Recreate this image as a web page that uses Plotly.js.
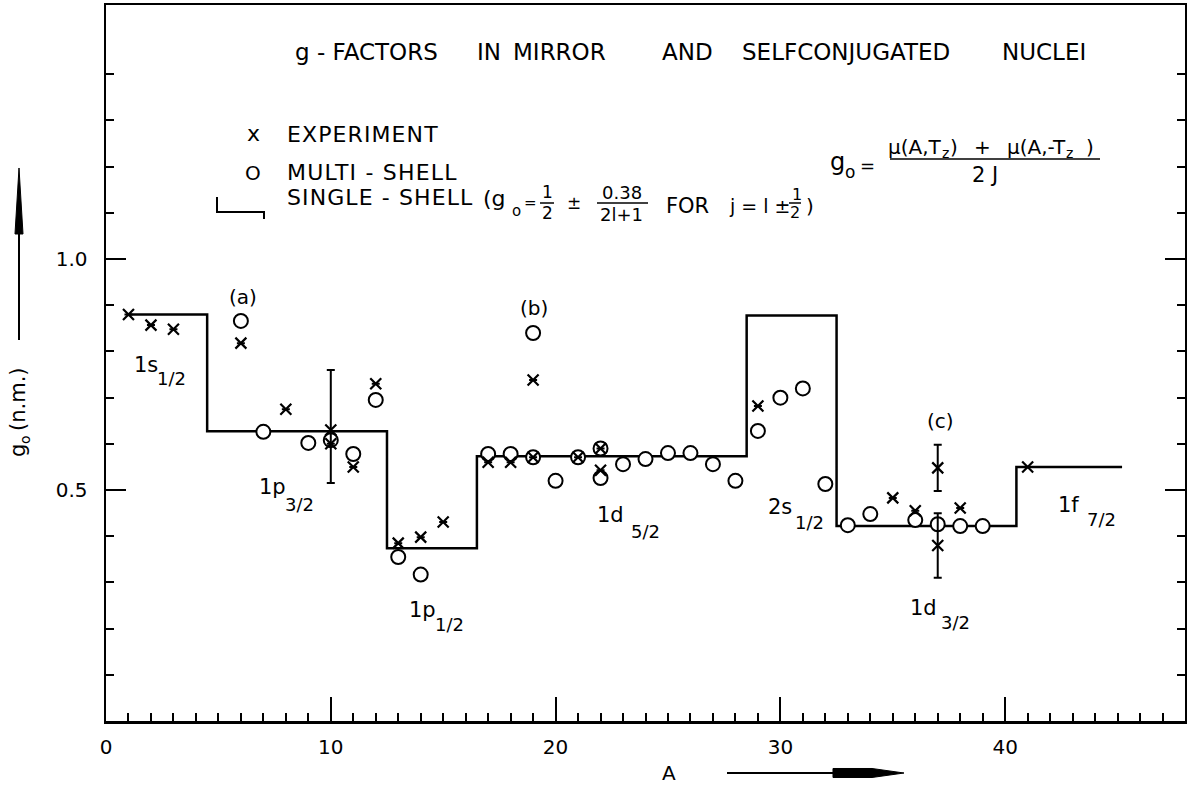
<!DOCTYPE html>
<html>
<head>
<meta charset="utf-8">
<script src="https://cdn.plot.ly/plotly-3.0.1.min.js"></script>
<style>html,body{margin:0;padding:0;background:#fff;}#chart{width:1187px;height:785px;}</style>
</head>
<body>
<div id="chart"></div>
<script>
// ---- data ----
const expA = [1, 2, 3, 6, 8, 10, 10, 11, 12, 13, 14, 15, 17, 18, 19, 19, 21, 22, 22, 29, 35, 36, 37, 37, 38, 41];
const expG = [0.88, 0.857, 0.848, 0.818, 0.675, 0.63, 0.60, 0.55, 0.73, 0.385, 0.398, 0.431, 0.56, 0.56, 0.571, 0.738, 0.571, 0.59, 0.543, 0.682, 0.483, 0.455, 0.548, 0.38, 0.461, 0.55];
const expErrPlus  = [null, null, null, null, null, 0.13,  null, null, null, null, null, null, null, null, null, null, null, null, null, null, null, null, 0.05, 0.07, null, null];
const expErrMinus = [null, null, null, null, null, 0.115, null, null, null, null, null, null, null, null, null, null, null, null, null, null, null, null, 0.05, 0.07, null, null];

const msA = [6, 7, 9, 10, 11, 12, 13, 14, 17, 18, 19, 19, 20, 21, 22, 22, 23, 24, 25, 26, 27, 28, 29, 30, 31, 32, 33, 34, 36, 37, 38, 39];
const msG = [0.866, 0.626, 0.602, 0.608, 0.578, 0.695, 0.355, 0.317, 0.578, 0.578, 0.571, 0.84, 0.52, 0.571, 0.59, 0.526, 0.556, 0.567, 0.58, 0.58, 0.556, 0.52, 0.628, 0.70, 0.72, 0.513, 0.424, 0.448, 0.435, 0.426, 0.422, 0.422];

const ssA = [1, 4.5, 12.5, 16.5, 28.5, 32.5, 40.5, 45.2];
const ssG = [0.88, 0.627, 0.374, 0.573, 0.878, 0.422, 0.55, 0.55];

const xLabelVals = [0, 10, 20, 30, 40];
const xLabelText = ['0', '10', '20', '30', '40'];
const xMidVals = [5, 15, 25, 35, 45];
const yTickVals = [0.5, 1.0];
const yTickText = ['0.5', '1.0'];
const yMinorVals = [0.1, 0.2, 0.3, 0.4, 0.6, 0.7, 0.8, 0.9, 1.1, 1.2, 1.3, 1.4];

// ---- page geometry helpers (pixel -> paper) ----
const L = 106, R = 1185, T = 5, B = 721;
const FONT = 'DejaVu Sans';
function px(x) { return (x - L) / (R - L); }
function py(y) { return (B - y) / (B - T); }
function ann(text, x, y, size, extra) {
  return Object.assign({
    xref: 'paper', yref: 'paper', x: px(x), y: py(y), text: text, showarrow: false,
    xanchor: 'center', yanchor: 'middle',
    font: { family: FONT, size: size, color: '#000' }
  }, extra || {});
}
function annL(text, x, y, size) { return ann(text, x, y, size, { xanchor: 'left' }); }
function annV(text, x, y, size) { return ann(text, x, y, size, { textangle: -90 }); }
function hline(x0, x1, y, w) {
  return { type: 'line', xref: 'paper', yref: 'paper', x0: px(x0), x1: px(x1), y0: py(y), y1: py(y), line: { color: '#000', width: w } };
}
function vline(x, y0, y1, w) {
  return { type: 'line', xref: 'paper', yref: 'paper', x0: px(x), x1: px(x), y0: py(y0), y1: py(y1), line: { color: '#000', width: w } };
}
function poly(pts, fill) {
  let d = pts.map((p, i) => (i ? 'L' : 'M') + px(p[0]).toFixed(5) + ',' + py(p[1]).toFixed(5)).join(' ');
  if (fill) d += ' Z';
  return { type: 'path', xref: 'paper', yref: 'paper', path: d,
    fillcolor: fill ? '#000' : 'rgba(0,0,0,0)', line: { color: '#000', width: fill ? 1 : 2 } };
}

const traces = [
  { x: ssA, y: ssG, mode: 'lines', line: { shape: 'hv', color: '#000', width: 2.5 }, hoverinfo: 'skip' },
  { x: msA, y: msG, mode: 'markers', marker: { symbol: 'circle', size: 14, color: '#fff', line: { color: '#000', width: 2 } } },
  { x: expA, y: expG, mode: 'markers',
    marker: { symbol: 'x-thin-open', size: 11, color: '#000', line: { color: '#000', width: 2.2 } },
    error_y: { type: 'data', symmetric: false, array: expErrPlus, arrayminus: expErrMinus, color: '#000', thickness: 2, width: 4 } }
];

const annotations = [
  // title
  annL('g - FACTORS', 293, 52, 23),
  annL('IN', 475, 52, 23),
  annL('MIRROR', 511, 52, 23),
  annL('AND', 660, 52, 23),
  annL('SELFCONJUGATED', 740, 52, 23),
  annL('NUCLEI', 1000, 52, 23),
  // legend
  ann('x', 253, 133, 22),
  annL('EXPERIMENT', 285, 135, 22),
  ann('O', 253, 173, 20),
  annL('MULTI - SHELL', 285, 173, 22),
  annL('SINGLE - SHELL', 285, 197, 22),
  annL('(g', 481, 199, 22),
  ann('o', 516, 211, 15),
  ann('=', 530, 203, 15),
  ann('1', 547, 192, 17), ann('2', 547, 213, 17),
  ann('±', 574, 203, 17),
  ann('0.38', 622, 192, 18), ann('2l+1', 621, 214, 18),
  annL('FOR', 664, 206, 21),
  annL('j = l ±', 727, 206, 19),
  ann('1', 797, 194, 16), ann('2', 795, 212, 16),
  ann(')', 810, 206, 20),
  // right formula
  ann('g', 837, 162, 24),
  ann('o', 850, 172, 17),
  ann('=', 867, 165, 18),
  ann('μ(A,T', 915, 147, 20),
  ann('z', 945, 153, 14),
  ann(')', 954, 147, 20),
  ann('+', 982, 147, 20),
  ann('μ(A,-T', 1036, 147, 20),
  ann('z', 1069, 153, 14),
  ann(')', 1090, 147, 20),
  ann('2 J', 985, 175, 21),
  // peak labels
  ann('(a)', 243, 297, 20),
  ann('(b)', 534, 308, 20),
  ann('(c)', 940, 421, 20),
  // shell labels
  ann('1s', 146, 365, 21), ann('1/2', 171, 378, 18),
  ann('1p', 272, 487, 21), ann('3/2', 299, 504, 18),
  ann('1p', 422, 610, 21), ann('1/2', 449, 624, 18),
  ann('1d', 610, 515, 21), ann('5/2', 645, 531, 18),
  ann('2s', 780, 507, 21), ann('1/2', 809, 522, 18),
  ann('1d', 924, 608, 21), ann('3/2', 955, 622, 18),
  ann('1f', 1068, 505, 21), ann('7/2', 1101, 519, 18),
  // axis titles
  annV('g', 18, 451, 21),
  annV('o', 25, 439, 14),
  annV('(n.m.)', 18, 399, 21),
  ann('A', 669, 773, 20)
];

const shapes = [
  // y arrow
  vline(19, 340, 228, 2),
  poly([[15, 234], [23, 234], [19, 168]], true),
  // x arrow
  hline(727, 836, 773, 2),
  poly([[833, 768.5], [872, 768.5], [904, 773], [872, 777.5], [833, 777.5]], true),
  // legend bracket
  poly([[217, 197], [217, 212], [264, 212], [264, 219]], false),
  // fraction bars
  hline(540, 554, 203, 1.5),
  hline(597, 648, 203, 1.5),
  hline(789, 801, 203, 1.5),
  hline(890, 1100, 159, 1.5)
];

const layout = {
  width: 1187, height: 785,
  margin: { l: L, r: 1187 - R, t: T, b: 785 - B, pad: 0 },
  paper_bgcolor: '#fff', plot_bgcolor: '#fff',
  showlegend: false,
  font: { family: FONT, color: '#000' },
  xaxis: {
    range: [0, 48], showgrid: false, zeroline: false,
    showline: true, linecolor: '#000', linewidth: 2.5, mirror: true,
    tickmode: 'array', tickvals: xLabelVals, ticktext: xLabelText,
    ticks: 'inside', ticklen: 24, tickwidth: 2, tickcolor: '#000',
    tickfont: { family: FONT, size: 20, color: '#000' },
    ticklabelstandoff: 6,
    minor: { dtick: 1, tick0: 0, ticks: 'inside', ticklen: 8, tickwidth: 2, tickcolor: '#000', showgrid: false }
  },
  xaxis2: {
    overlaying: 'x', anchor: 'y', side: 'bottom', range: [0, 48],
    showgrid: false, zeroline: false, showline: false, showticklabels: false,
    tickmode: 'array', tickvals: xMidVals,
    ticks: 'inside', ticklen: 24, tickwidth: 2, tickcolor: '#000'
  },
  yaxis: {
    range: [0, 1.55], showgrid: false, zeroline: false,
    showline: true, linecolor: '#000', linewidth: 2.5, mirror: 'ticks',
    tickmode: 'array', tickvals: yTickVals, ticktext: yTickText,
    ticks: 'inside', ticklen: 20, tickwidth: 2, tickcolor: '#000',
    tickfont: { family: FONT, size: 20, color: '#000' },
    ticklabelstandoff: 12,
    minor: { tickmode: 'array', tickvals: yMinorVals, ticks: 'inside', ticklen: 8, tickwidth: 2, tickcolor: '#000', showgrid: false }
  },
  annotations: annotations,
  shapes: shapes
};

// wider letter spacing for the legend words (kept left-aligned)
const spaced = { 'EXPERIMENT': '1.1px', 'MULTI - SHELL': '1.2px', 'SINGLE - SHELL': '1.1px' };
Plotly.newPlot('chart', traces, layout, { staticPlot: true, displayModeBar: false }).then(function () {
  document.querySelectorAll('.annotation-text').forEach(function (el) {
    const s = spaced[el.textContent];
    if (!s) return;
    const bb = el.getBBox();
    el.style.letterSpacing = s;
    el.setAttribute('text-anchor', 'start');
    el.setAttribute('x', bb.x);
  });
});
</script>
</body>
</html>
